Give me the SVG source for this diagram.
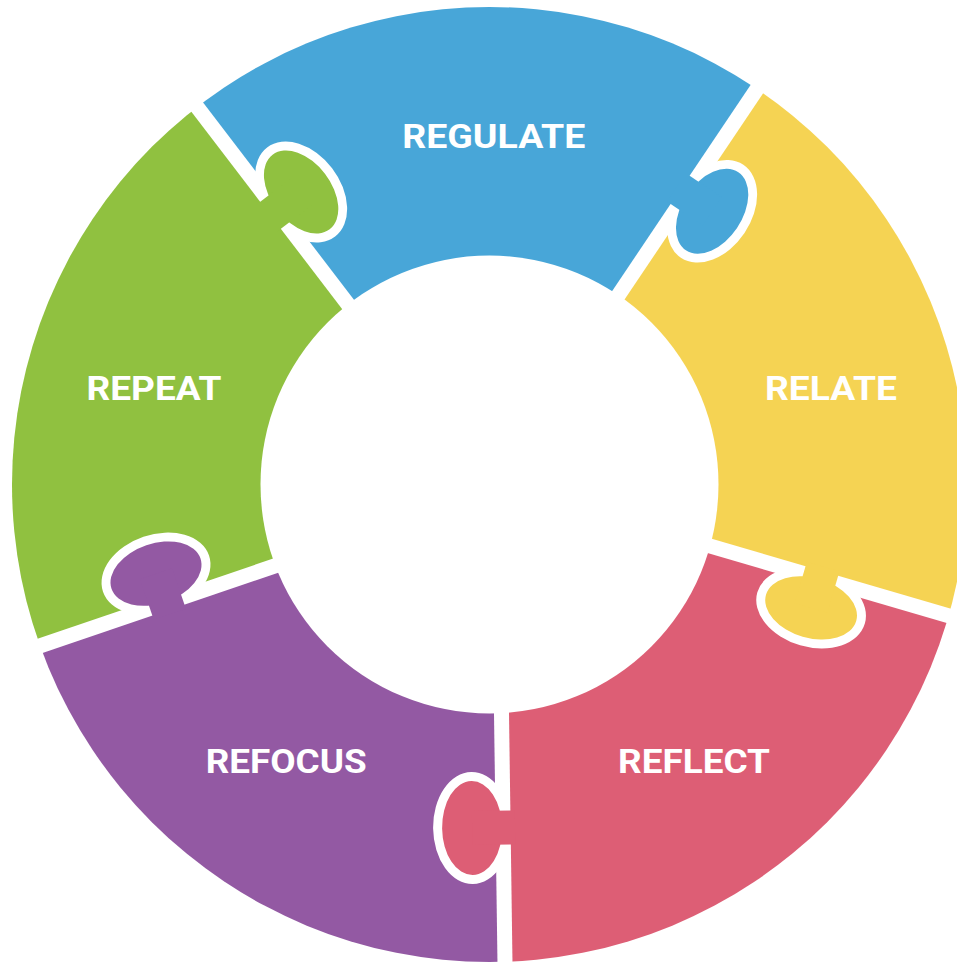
<svg xmlns="http://www.w3.org/2000/svg" width="957" height="962" viewBox="0 0 957 962">
  <defs>
    <style>
      .label { font-family: Roboto, "Liberation Sans", sans-serif; font-weight: 700; font-size: 33px; fill: #ffffff; text-anchor: middle; }
      .gap { stroke: #000000; stroke-width: 15; fill: none; }
      .cut { fill: #000000; }
      .blue { fill: #48A6D8; }
      .yellow { fill: #F5D353; }
      .red { fill: #DD5E75; }
      .purple { fill: #9359A3; }
      .green { fill: #90C140; }
    </style>
    <!-- Knob shape in the local frame of a seam: x runs outward along the seam, y runs clockwise -->
    <g id="knob">
      <ellipse cx="0" cy="31" rx="47" ry="30"/>
      <rect x="-17" y="-12" width="34" height="43"/>
    </g>
    <!-- Seam band plus the white rim around the knob that pokes through it -->
    <g id="seam-cut">
      <line class="gap" x1="-220" y1="0" x2="260" y2="0"/>
      <ellipse class="cut" cx="0" cy="31" rx="56" ry="39"/>
    </g>
    <!-- Ring with the five seams and knob rims removed -->
    <mask id="ring-mask" maskUnits="userSpaceOnUse" x="0" y="0" width="957" height="962">
      <circle cx="489.5" cy="484.5" r="477.5" fill="#ffffff"/>
      <circle cx="489.5" cy="484.5" r="229" fill="#000000"/>
      <use href="#seam-cut" transform="translate(686.4 194) rotate(-56.1)"/>
      <use href="#seam-cut" transform="translate(819.8 578.1) rotate(16.3)"/>
      <use href="#seam-cut" transform="translate(503.1 827.6) rotate(89.2)"/>
      <use href="#seam-cut" transform="translate(166 603) rotate(161.2)"/>
      <use href="#seam-cut" transform="translate(276.5 210.8) rotate(232.6)"/>
    </mask>
  </defs>

  <rect width="957" height="962" fill="#ffffff"/>

  <g id="regulate">
    <path class="blue" mask="url(#ring-mask)" d="M489.5 484.5 L398 369.7 L63.9 -67.2 L881.6 -96.5 L574.9 360 Z"/>
    <use class="blue" href="#knob" transform="translate(686.4 194) rotate(-56.1)"/>
    <text class="label" x="493.8" y="147.5" textLength="183" lengthAdjust="spacingAndGlyphs">REGULATE</text>
  </g>

  <g id="relate">
    <path class="yellow" mask="url(#ring-mask)" d="M489.5 484.5 L574.9 360 L881.6 -96.5 L1155.7 676.3 L627.8 522 Z"/>
    <use class="yellow" href="#knob" transform="translate(819.8 578.1) rotate(16.3)"/>
    <text class="label" x="831" y="400" textLength="132" lengthAdjust="spacingAndGlyphs">RELATE</text>
  </g>

  <g id="reflect">
    <path class="red" mask="url(#ring-mask)" d="M489.5 484.5 L627.8 522 L1155.7 676.3 L508 1177.6 L500.3 627.6 Z"/>
    <use class="red" href="#knob" transform="translate(503.1 827.6) rotate(89.2)"/>
    <text class="label" x="694" y="773" textLength="152" lengthAdjust="spacingAndGlyphs">REFLECT</text>
  </g>

  <g id="refocus">
    <path class="purple" mask="url(#ring-mask)" d="M489.5 484.5 L500.3 627.6 L508 1177.6 L-165.3 715.8 L355.3 538.6 Z"/>
    <use class="purple" href="#knob" transform="translate(166 603) rotate(161.2)"/>
    <text class="label" x="286.2" y="772.5" textLength="161" lengthAdjust="spacingAndGlyphs">REFOCUS</text>
  </g>

  <g id="repeat">
    <path class="green" mask="url(#ring-mask)" d="M489.5 484.5 L355.3 538.6 L-165.3 715.8 L63.9 -67.2 L398 369.7 Z"/>
    <use class="green" href="#knob" transform="translate(276.5 210.8) rotate(232.6)"/>
    <text class="label" x="154" y="400" textLength="135" lengthAdjust="spacingAndGlyphs">REPEAT</text>
  </g>
</svg>
